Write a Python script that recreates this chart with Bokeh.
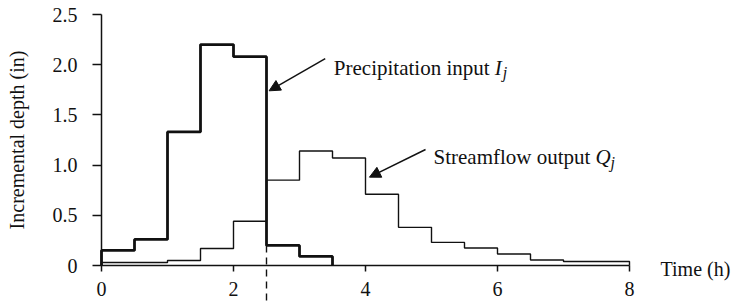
import numpy as np
from bokeh.plotting import figure
from bokeh.models import Range1d, FixedTicker, Arrow, NormalHead
from bokeh.core.properties import value
from bokeh.embed import file_html
from bokeh.resources import INLINE

# ---- data ----
dt = 0.5  # h, interval length
precip = [0.15, 0.26, 1.33, 2.20, 2.08, 0.20, 0.09]
streamflow = [0.03, 0.03, 0.05, 0.17, 0.44, 0.85, 1.14, 1.07,
              0.71, 0.38, 0.23, 0.175, 0.115, 0.055, 0.04, 0.04]
x_ticks = [0, 2, 4, 6, 8]
y_ticks = [0, 0.5, 1.0, 1.5, 2.0, 2.5]
y_tick_labels = ["0", "0.5", "1.0", "1.5", "2.0", "2.5"]
x_label = "Time (h)"
y_label = "Incremental depth (in)"
precip_label = "Precipitation input "
stream_label = "Streamflow output "
precip_sym = "I"
stream_sym = "Q"
sub_sym = "j"

FONT = "Liberation Serif"
FS = "20px"
AFS = "21px"
INK = "#111111"

W, H = 734, 302
X0_PX, XS = 101, 66.0      # pixel of x=0, pixels per hour
Y0_PX, YS = 265, 100.4     # pixel of y=0, pixels per inch


def outline(vals):
    n = len(vals)
    edges = np.arange(n + 1) * dt
    xs = np.repeat(edges, 2)
    ys = np.concatenate([[0.0], np.repeat(vals, 2), [0.0]])
    return xs, ys


p = figure(width=W, height=H,
           x_range=Range1d(-X0_PX / XS, (W - X0_PX) / XS),
           y_range=Range1d(-(H - Y0_PX) / YS, Y0_PX / YS),
           output_backend="svg", toolbar_location=None,
           min_border_left=0, min_border_right=0,
           min_border_top=0, min_border_bottom=0)
p.outline_line_color = None
p.xgrid.visible = False
p.ygrid.visible = False
p.background_fill_color = "white"
p.border_fill_color = "white"

# axes
xa = p.xaxis[0]
xa.fixed_location = 0
xa.bounds = (0, x_ticks[-1])
xa.ticker = FixedTicker(ticks=x_ticks, minor_ticks=[])
xa.major_tick_in = 0
xa.major_tick_out = 6
xa.minor_tick_out = 0
xa.minor_tick_in = 0
xa.major_label_standoff = 10

ya = p.yaxis[0]
ya.fixed_location = 0
ya.bounds = (0, y_ticks[-1])
ya.ticker = FixedTicker(ticks=y_ticks, minor_ticks=[])
ya.major_label_overrides = {t: s for t, s in zip(y_ticks, y_tick_labels)}
ya.major_tick_in = 0
ya.major_tick_out = 9
ya.minor_tick_out = 0
ya.minor_tick_in = 0
ya.major_label_standoff = 15
ya.axis_label = y_label
ya.axis_label_standoff = 22

for ax in (xa, ya):
    ax.axis_line_width = 1.5
    ax.axis_line_color = INK
    ax.major_tick_line_width = 1.5
    ax.major_tick_line_color = INK
    ax.major_label_text_font = FONT
    ax.major_label_text_font_size = FS
    ax.major_label_text_color = INK
    ax.axis_label_text_font = FONT
    ax.axis_label_text_font_size = FS
    ax.axis_label_text_font_style = "normal"
    ax.axis_label_text_color = INK

# step outlines
sx, sy = outline(streamflow)
p.line(sx, sy, line_color=INK, line_width=1.4)
px, py = outline(precip)
p.line(px, py, line_color=INK, line_width=2.8)

# dashed marker at the end of the main rainfall
t_end = 5 * dt
p.segment(x0=[t_end], y0=[precip[5]], x1=[t_end], y1=[p.y_range.start],
          line_color=INK, line_width=1.4, line_dash="7 5")

# annotations
p.add_layout(Arrow(end=NormalHead(size=11, fill_color=INK, line_color=INK, line_width=1),
                   x_start=3.39, y_start=2.06, x_end=2.54, y_end=1.74,
                   line_color=INK, line_width=1.5))
p.add_layout(Arrow(end=NormalHead(size=11, fill_color=INK, line_color=INK, line_width=1),
                   x_start=4.91, y_start=1.155, x_end=4.06, y_end=0.88,
                   line_color=INK, line_width=1.5))

common = dict(text_font=value(FONT), text_color=INK, text_baseline="alphabetic")
p.text(x=[3.52], y=[1.97], text=[precip_label], text_font_size=AFS, **common)
p.text(x=[3.52], y=[1.97], text=[precip_sym], x_offset=161, text_font_size=AFS,
       text_font_style="italic", **common)
p.text(x=[3.52], y=[1.97], text=[sub_sym], x_offset=169, y_offset=5,
       text_font_size="16px", text_font_style="italic", **common)

p.text(x=[5.03], y=[1.08], text=[stream_label], text_font_size=AFS, **common)
p.text(x=[5.03], y=[1.08], text=[stream_sym], x_offset=162, text_font_size=AFS,
       text_font_style="italic", **common)
p.text(x=[5.03], y=[1.08], text=[sub_sym], x_offset=177, y_offset=5,
       text_font_size="16px", text_font_style="italic", **common)

p.text(x=[8.47], y=[-0.033], text=[x_label], text_font_size=FS, **common)

open("out.html", "w").write(file_html(p, INLINE))
